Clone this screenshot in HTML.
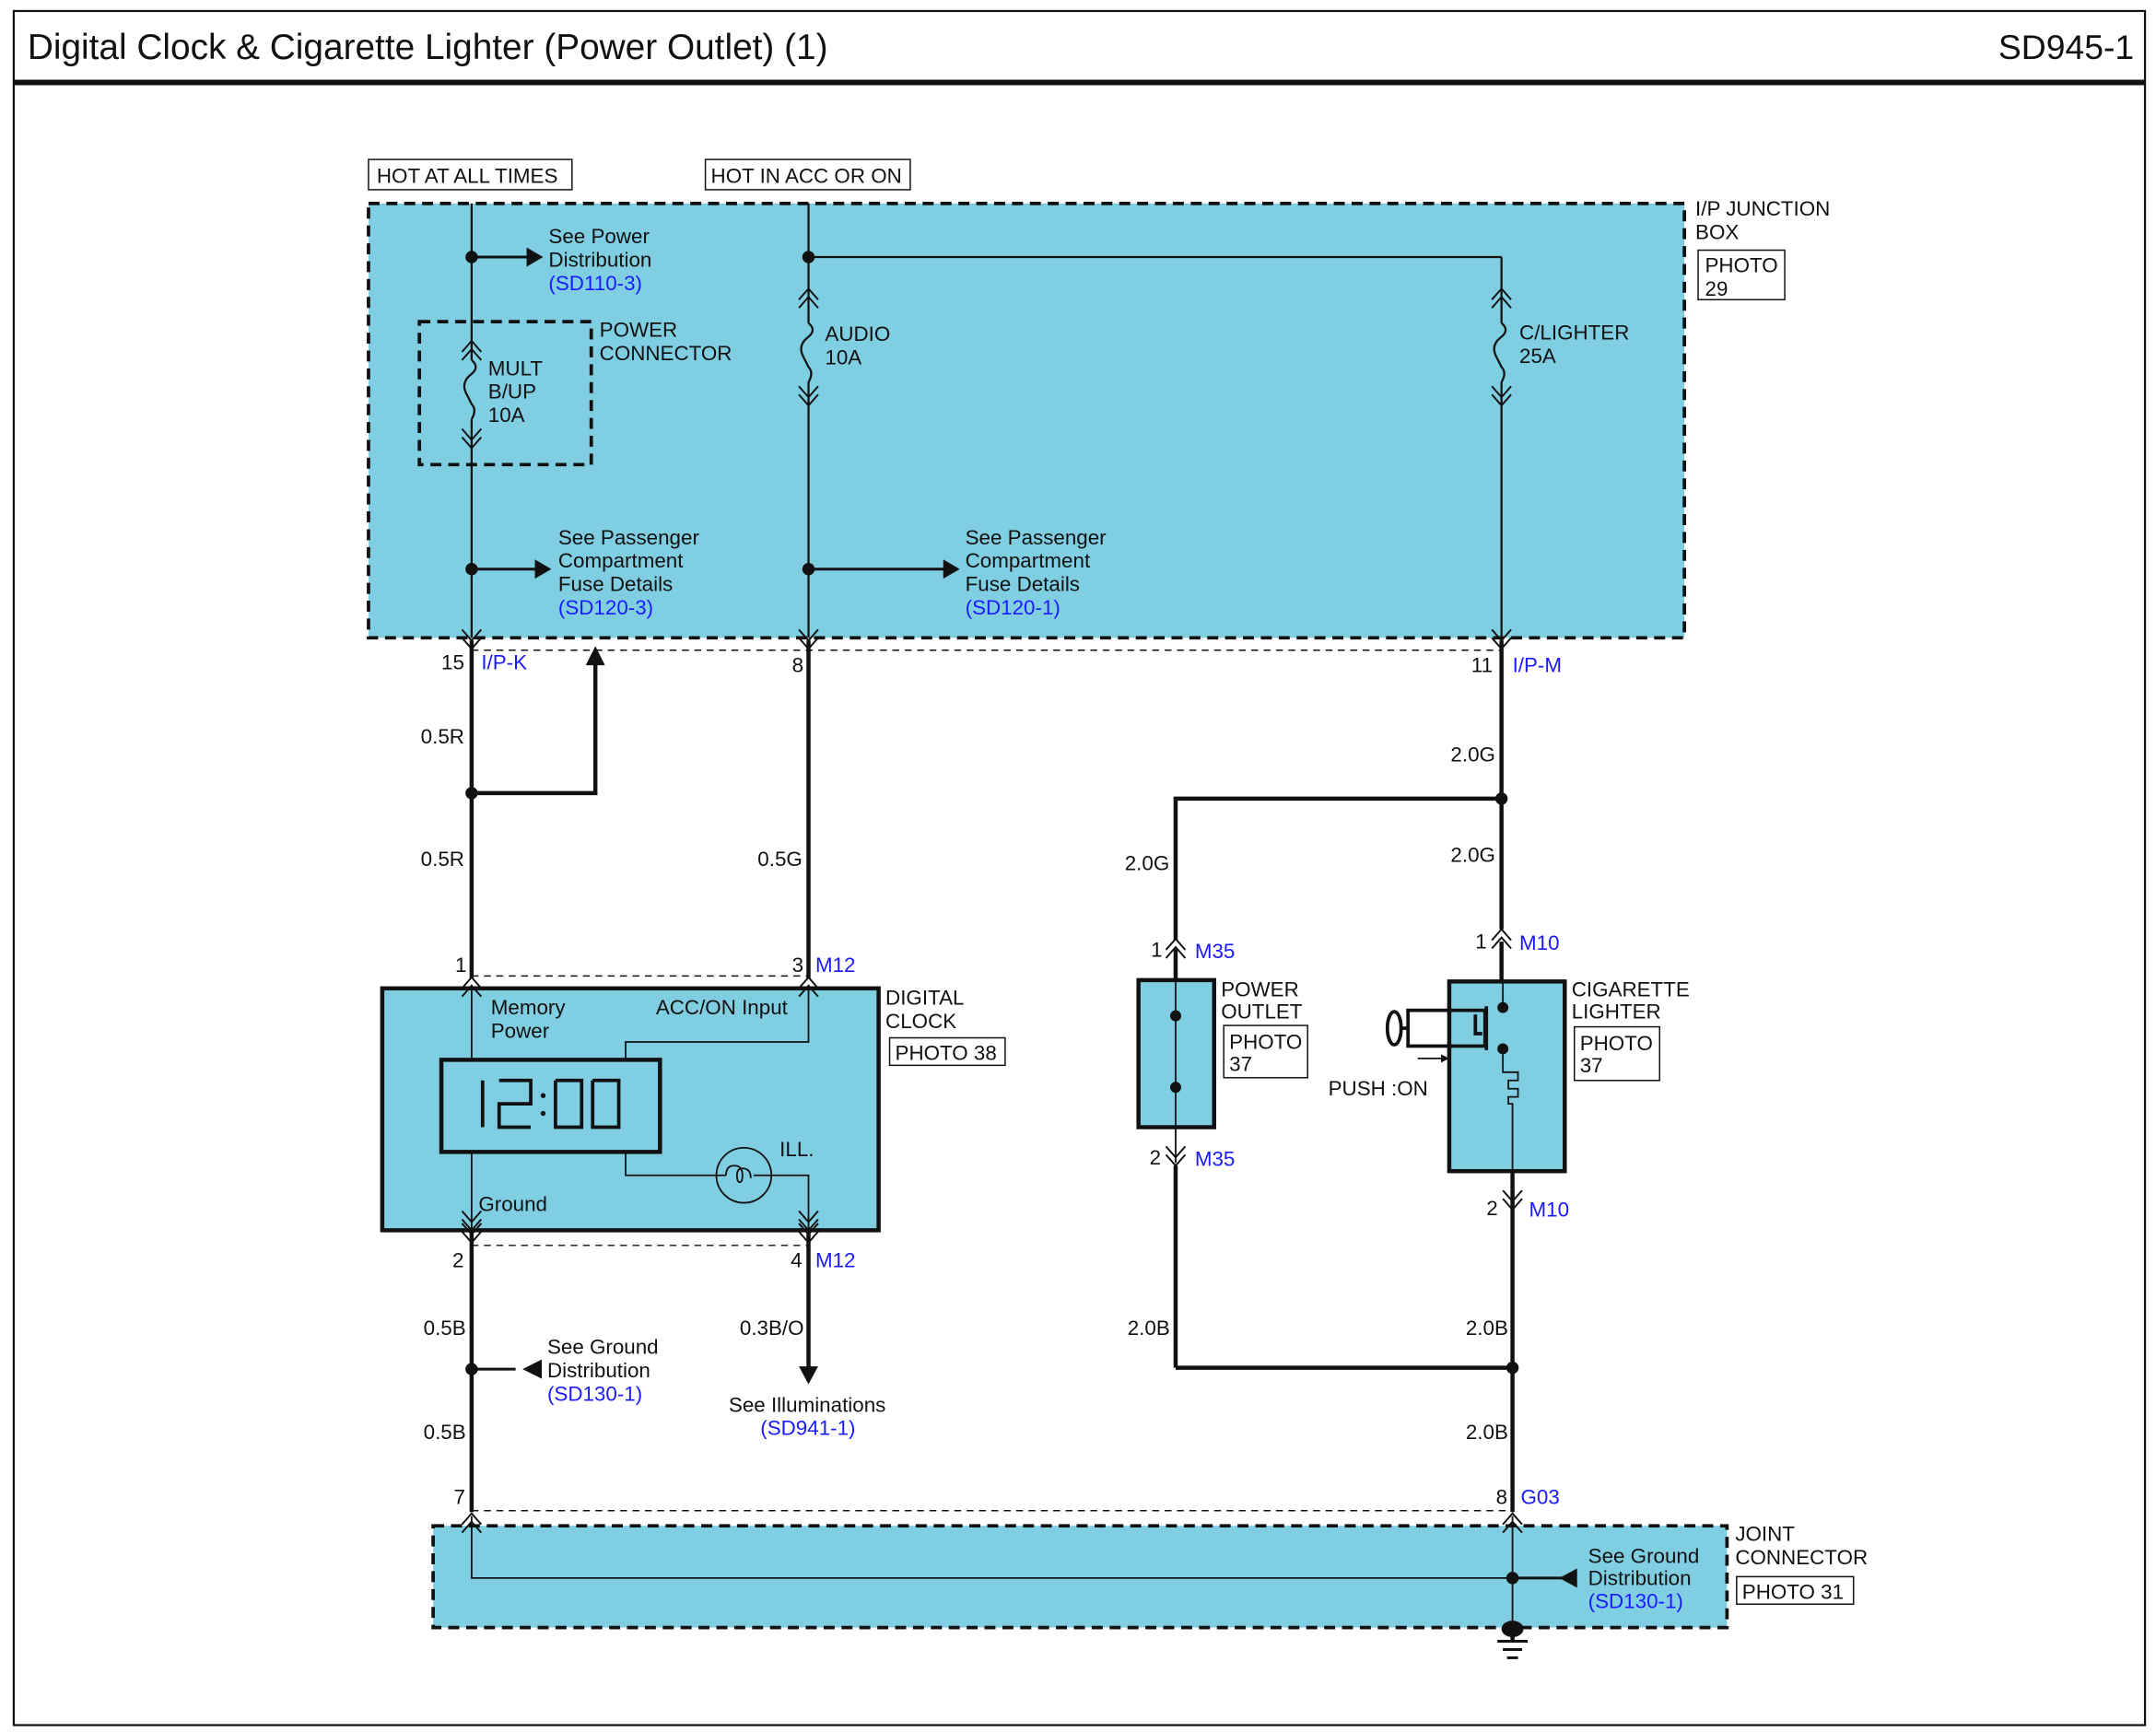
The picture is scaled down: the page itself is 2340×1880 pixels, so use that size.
<!DOCTYPE html>
<html><head><meta charset="utf-8"><style>
html,body{margin:0;padding:0;background:#fff}
svg{display:block}
text{font-family:"Liberation Sans",sans-serif;font-size:15px;fill:#111}
.b{fill:#1a1aff}
</style></head><body>
<svg width="2340" height="1880" viewBox="0 0 1568 1260" preserveAspectRatio="none" xmlns="http://www.w3.org/2000/svg">
<defs>
<g id="up"><path d="M-7,8 L0,0 L7,8 M-7,14 L0,6 L7,14" fill="none" stroke="#111" stroke-width="1.3"/></g>
<g id="dn"><path d="M-7,-8 L0,0 L7,-8 M-7,-14 L0,-6 L7,-14" fill="none" stroke="#111" stroke-width="1.3"/></g>
</defs>
<rect x="0" y="0" width="1568" height="1260" fill="#fff"/>
<rect x="10" y="8" width="1550" height="1247" fill="none" stroke="#111" stroke-width="1.5"/>
<line x1="10" y1="60" x2="1560" y2="60" stroke="#111" stroke-width="4"/>
<text x="20" y="43" style="font-size:26px">Digital Clock &amp; Cigarette Lighter (Power Outlet) (1)</text>
<text x="1552" y="43" text-anchor="end" style="font-size:25px">SD945-1</text>

<!-- junction box -->
<rect x="268" y="148" width="957" height="316" fill="#80cee2" stroke="#111" stroke-width="2.5" stroke-dasharray="8,5"/>
<rect x="268" y="116" width="148" height="22" fill="#fff" stroke="#111"/>
<text x="274" y="133">HOT AT ALL TIMES</text>
<rect x="513" y="116" width="149" height="22" fill="#fff" stroke="#111"/>
<text x="517" y="133">HOT IN ACC OR ON</text>
<text x="1233" y="157">I/P JUNCTION</text><text x="1233" y="174">BOX</text>
<rect x="1235" y="182" width="63" height="36" fill="none" stroke="#111"/>
<text x="1240" y="198">PHOTO</text><text x="1240" y="215">29</text>

<rect x="305" y="234" width="125" height="104" fill="none" stroke="#111" stroke-width="2.5" stroke-dasharray="8,5"/>
<text x="436" y="245">POWER</text><text x="436" y="262">CONNECTOR</text>

<g stroke="#111" stroke-width="1.5" fill="none">
<line x1="343" y1="148" x2="343" y2="262"/><line x1="343" y1="305" x2="343" y2="464"/>
<path d="M343,262 q6,5 0,10 q-8,6 -4,14 q3,6 4,8 q4,4 0,11" />
<line x1="588" y1="148" x2="588" y2="235"/><line x1="588" y1="278" x2="588" y2="464"/>
<path d="M588,235 q6,5 0,10 q-8,6 -4,14 q3,6 4,8 q4,4 0,11"/>
<line x1="1092" y1="187" x2="1092" y2="235"/><line x1="1092" y1="278" x2="1092" y2="464"/>
<path d="M1092,235 q6,5 0,10 q-8,6 -4,14 q3,6 4,8 q4,4 0,11"/>
<line x1="588" y1="187" x2="1092" y2="187"/>
<line x1="343" y1="187" x2="385" y2="187" stroke-width="2"/>
<line x1="343" y1="414" x2="390" y2="414" stroke-width="2"/>
<line x1="588" y1="414" x2="688" y2="414" stroke-width="2"/>
</g>
<use href="#up" x="343" y="248"/><use href="#dn" x="343" y="326"/>
<use href="#up" x="588" y="210"/><use href="#dn" x="588" y="295"/>
<use href="#up" x="1092" y="210"/><use href="#dn" x="1092" y="295"/>
<g fill="#111">
<circle cx="343" cy="187" r="4.5"/><circle cx="588" cy="187" r="4.5"/>
<circle cx="343" cy="414" r="4.5"/><circle cx="588" cy="414" r="4.5"/>
<path d="M383,180 L395,187 L383,194Z"/><path d="M389,407 L401,414 L389,421Z"/><path d="M686,407 L698,414 L686,421Z"/>
</g>
<text x="399" y="177">See Power</text><text x="399" y="194">Distribution</text><text x="399" y="211" class="b">(SD110-3)</text>
<text x="355" y="273">MULT</text><text x="355" y="290">B/UP</text><text x="355" y="307">10A</text>
<text x="600" y="248">AUDIO</text><text x="600" y="265">10A</text>
<text x="1105" y="247">C/LIGHTER</text><text x="1105" y="264">25A</text>
<text x="406" y="396">See Passenger</text><text x="406" y="413">Compartment</text><text x="406" y="430">Fuse Details</text><text x="406" y="447" class="b">(SD120-3)</text>
<text x="702" y="396">See Passenger</text><text x="702" y="413">Compartment</text><text x="702" y="430">Fuse Details</text><text x="702" y="447" class="b">(SD120-1)</text>

<use href="#dn" x="343" y="472"/><use href="#dn" x="588" y="472"/><use href="#dn" x="1092" y="472"/>
<line x1="343" y1="473" x2="1092" y2="473" stroke="#111" stroke-dasharray="5,4"/>
<text x="321" y="487">15</text><text x="350" y="487" class="b">I/P-K</text>
<text x="576" y="489">8</text>
<text x="1070" y="489">11</text><text x="1100" y="489" class="b">I/P-M</text>

<g stroke="#111" stroke-width="3" fill="none">
<line x1="343" y1="466" x2="343" y2="712"/>
<polyline points="343,577 433,577 433,482"/>
<line x1="588" y1="466" x2="588" y2="712"/>
<line x1="1092" y1="466" x2="1092" y2="676"/>
<polyline points="1092,581 855,581 855,684"/>
<line x1="855" y1="848" x2="855" y2="995"/>
<polyline points="855,995 1100,995"/>
<line x1="1100" y1="852" x2="1100" y2="1100"/>
<line x1="343" y1="895" x2="343" y2="1100"/>
<line x1="588" y1="895" x2="588" y2="995"/>
<line x1="1092" y1="685" x2="1092" y2="714"/>
<line x1="855" y1="690" x2="855" y2="713"/>
<line x1="375" y1="996" x2="343" y2="996" stroke-width="2"/>
</g>
<g fill="#111">
<path d="M426,484 L433,470 L440,484Z"/>
<circle cx="343" cy="577" r="4.5"/><circle cx="1092" cy="581" r="4.5"/>
<circle cx="343" cy="996" r="4.5"/><circle cx="1100" cy="995" r="4.5"/>
<path d="M394,989 L380,996 L394,1003Z"/>
<path d="M581,994 L588,1007 L595,994Z"/>
</g>
<text x="306" y="541">0.5R</text><text x="306" y="630">0.5R</text><text x="551" y="630">0.5G</text>
<text x="1055" y="554">2.0G</text><text x="818" y="633">2.0G</text><text x="1055" y="627">2.0G</text>

<!-- digital clock -->
<line x1="343" y1="710" x2="588" y2="710" stroke="#111" stroke-dasharray="5,4"/>
<text x="331" y="707">1</text><text x="576" y="707">3</text><text x="593" y="707" class="b">M12</text>
<rect x="278" y="719" width="361" height="176" fill="#80cee2" stroke="#111" stroke-width="3"/>
<use href="#up" x="343" y="711"/><use href="#up" x="588" y="711"/>
<g stroke="#111" stroke-width="1.2" fill="none">
<line x1="343" y1="719" x2="343" y2="895"/>
<polyline points="455,771 455,758 588,758 588,719"/>
<polyline points="455,838 455,855 528,855"/>
<polyline points="548,855 588,855 588,895"/>
<circle cx="541" cy="855" r="20"/>
<path d="M528,855 q0,-7 6,-7 q6,0 6,7 q0,5 -2,5 q-2,0 -2,-5 q0,-5 4,-5 q6,0 6,7"/>
</g>
<rect x="321" y="771" width="159" height="67" fill="#80cee2" stroke="#111" stroke-width="3"/>
<g stroke="#111" stroke-width="2.5" fill="none">
<line x1="351" y1="786" x2="351" y2="820"/>
<polyline points="363,786 386,786 386,803 363,803 363,820 386,820"/>
<polyline points="404,786 404,820 423,820 423,786 404,786"/>
<polyline points="431,786 431,820 450,820 450,786 431,786"/>
</g>
<circle cx="395" cy="797" r="1.8" fill="#111"/><circle cx="395" cy="810" r="1.8" fill="#111"/>
<text x="357" y="738">Memory</text><text x="357" y="755">Power</text>
<text x="477" y="738">ACC/ON Input</text>
<text x="567" y="841">ILL.</text>
<text x="348" y="881">Ground</text>
<use href="#dn" x="343" y="895"/><use href="#dn" x="588" y="895"/>
<use href="#dn" x="343" y="904"/><use href="#dn" x="588" y="904"/>
<text x="644" y="731">DIGITAL</text><text x="644" y="748">CLOCK</text>
<rect x="647" y="755" width="84" height="20" fill="none" stroke="#111"/><text x="651" y="771">PHOTO 38</text>
<line x1="343" y1="906" x2="588" y2="906" stroke="#111" stroke-dasharray="5,4"/>
<text x="329" y="922">2</text><text x="575" y="922">4</text><text x="593" y="922" class="b">M12</text>
<text x="308" y="971">0.5B</text><text x="308" y="1047">0.5B</text>
<text x="398" y="985">See Ground</text><text x="398" y="1002">Distribution</text><text x="398" y="1019" class="b">(SD130-1)</text>
<text x="538" y="971">0.3B/O</text>
<text x="530" y="1027">See Illuminations</text><text x="553" y="1044" class="b">(SD941-1)</text>

<!-- power outlet -->
<use href="#up" x="855" y="683"/>
<text x="837" y="696">1</text><text x="869" y="697" class="b">M35</text>
<rect x="828" y="713" width="55" height="107" fill="#80cee2" stroke="#111" stroke-width="3"/>
<line x1="855" y1="713" x2="855" y2="846" stroke="#111" stroke-width="1.2"/>
<circle cx="855" cy="739" r="4" fill="#111"/><circle cx="855" cy="791" r="4" fill="#111"/>
<use href="#dn" x="855" y="848"/>
<text x="836" y="847">2</text><text x="869" y="848" class="b">M35</text>
<text x="888" y="725">POWER</text><text x="888" y="741">OUTLET</text>
<rect x="890" y="746" width="61" height="38" fill="none" stroke="#111"/><text x="894" y="763">PHOTO</text><text x="894" y="779">37</text>
<text x="820" y="971">2.0B</text>

<!-- cigarette lighter -->
<use href="#up" x="1092" y="676"/>
<text x="1073" y="690">1</text><text x="1105" y="691" class="b">M10</text>
<rect x="1054" y="714" width="84" height="138" fill="#80cee2" stroke="#111" stroke-width="3"/>
<g stroke="#111" stroke-width="1.2" fill="none">
<polyline points="1093,714 1093,733"/>
<polyline points="1093,763 1093,780 1104,780 1104,786 1097,786 1097,792 1104,792 1104,798 1097,798 1097,803 1100,803 1100,852"/>
<line x1="1031" y1="770" x2="1048" y2="770"/>
</g>
<path d="M1048,767 L1054,770 L1048,773Z" fill="#111"/>
<g stroke="#111" stroke-width="2.5" fill="none">
<rect x="1024" y="735" width="56" height="26"/>
<ellipse cx="1014" cy="748" rx="5" ry="12"/>
<line x1="1019" y1="748" x2="1024" y2="748"/>
<polyline points="1073,738 1073,752 1078,752"/>
<line x1="1081" y1="732" x2="1081" y2="764"/>
</g>
<circle cx="1093" cy="733" r="4" fill="#111"/><circle cx="1093" cy="763" r="4" fill="#111"/>
<text x="966" y="797">PUSH :ON</text>
<use href="#dn" x="1100" y="880"/>
<text x="1081" y="884">2</text><text x="1112" y="885" class="b">M10</text>
<text x="1143" y="725">CIGARETTE</text><text x="1143" y="741">LIGHTER</text>
<rect x="1145" y="747" width="62" height="39" fill="none" stroke="#111"/><text x="1149" y="764">PHOTO</text><text x="1149" y="780">37</text>
<text x="1066" y="971">2.0B</text><text x="1066" y="1047">2.0B</text>

<!-- joint connector -->
<line x1="343" y1="1099" x2="1100" y2="1099" stroke="#111" stroke-dasharray="5,4"/>
<text x="330" y="1094">7</text><text x="1088" y="1094">8</text><text x="1106" y="1094" class="b">G03</text>
<rect x="315" y="1110" width="941" height="74" fill="#80cee2" stroke="#111" stroke-width="2.5" stroke-dasharray="8,5"/>
<use href="#up" x="343" y="1101"/><use href="#up" x="1100" y="1101"/>
<g stroke="#111" stroke-width="1.2" fill="none">
<polyline points="343,1103 343,1148 1100,1148"/>
<line x1="1100" y1="1103" x2="1100" y2="1185"/>
<line x1="1100" y1="1148" x2="1140" y2="1148" stroke-width="2"/>
</g>
<circle cx="1100" cy="1148" r="4.5" fill="#111"/>
<path d="M1147,1141 L1134,1148 L1147,1155Z" fill="#111"/>
<text x="1155" y="1137">See Ground</text><text x="1155" y="1153">Distribution</text><text x="1155" y="1170" class="b">(SD130-1)</text>
<text x="1262" y="1121">JOINT</text><text x="1262" y="1138">CONNECTOR</text>
<rect x="1263" y="1147" width="85" height="20" fill="none" stroke="#111"/><text x="1267" y="1163">PHOTO 31</text>
<line x1="1100" y1="1184" x2="1100" y2="1193" stroke="#111" stroke-width="3"/>
<ellipse cx="1100" cy="1185" rx="8" ry="6" fill="#111"/>
<g stroke="#111" stroke-width="2"><line x1="1089" y1="1194" x2="1111" y2="1194"/><line x1="1093" y1="1200" x2="1107" y2="1200"/><line x1="1096" y1="1206" x2="1104" y2="1206"/></g>
</svg>
</body></html>
